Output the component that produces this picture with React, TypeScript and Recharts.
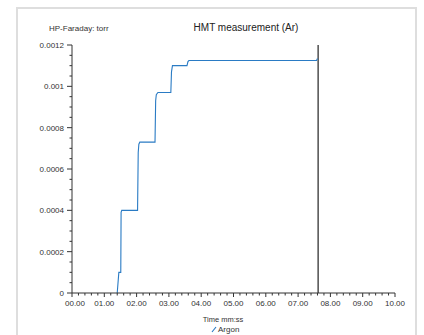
import React from "react";
import { LineChart, Line, XAxis, YAxis, ReferenceLine, Legend } from "recharts";

// time in minutes, HP-Faraday pressure in torr
const timeMin = [1.40, 1.45, 1.47, 1.51, 1.52, 1.54, 2.03, 2.05, 2.07, 2.10, 2.57, 2.59, 2.61, 2.66, 3.06, 3.08, 3.11, 3.17, 3.56, 3.59, 3.62, 7.57, 7.60];
const argon = [0, 0.0001, 0.0001, 0.0001, 0.00039, 0.0004, 0.0004, 0.00068, 0.00072, 0.00073, 0.00073, 0.00093, 0.00096, 0.00097, 0.00097, 0.00107, 0.0011, 0.0011, 0.0011, 0.00112, 0.001125, 0.001125, 0.001135];

const xMajorTicks = [0, 1, 2, 3, 4, 5, 6, 7, 8, 9, 10];
const xTickLabels = ["00.00", "01.00", "02.00", "03.00", "04.00", "05.00", "06.00", "07.00", "08.00", "09.00", "10.00"];
const yMajorTicks = [0, 0.0002, 0.0004, 0.0006, 0.0008, 0.001, 0.0012];
const yTickLabels = ["0", "0.0002", "0.0004", "0.0006", "0.0008", "0.001", "0.0012"];
const cursorTime = 7.62;

const data = timeMin.map((t, i) => ({ t, argon: argon[i] }));

const xTicks: number[] = [];
xMajorTicks.forEach((v, i) => {
  xTicks.push(v);
  if (i < xMajorTicks.length - 1) {
    const step = (xMajorTicks[i + 1] - v) / 5;
    for (let k = 1; k < 5; k++) xTicks.push(+(v + k * step).toFixed(6));
  }
});
const yTicks: number[] = [];
yMajorTicks.forEach((v, i) => {
  yTicks.push(v);
  if (i < yMajorTicks.length - 1) {
    const step = (yMajorTicks[i + 1] - v) / 4;
    for (let k = 1; k < 4; k++) yTicks.push(+(v + k * step).toFixed(8));
  }
});

const FONT = "'Liberation Sans', Arial, Helvetica, sans-serif";
const AXIS = "#333";

const XTick = (props: any) => {
  const { x, y, payload } = props;
  const idx = xMajorTicks.findIndex((m) => Math.abs(m - payload.value) < 1e-6);
  const major = idx >= 0;
  return (
    <g>
      <line x1={x} x2={x} y1={y} y2={y + (major ? 4 : 2.5)} stroke={AXIS} strokeWidth={1} />
      {major && (
        <text x={x + (idx === 0 ? 3 : 0)} y={y + 13} textAnchor="middle" fontSize={8} fill="#333" fontFamily={FONT}>
          {xTickLabels[idx]}
        </text>
      )}
    </g>
  );
};

const YTick = (props: any) => {
  const { x, y, payload } = props;
  const idx = yMajorTicks.findIndex((m) => Math.abs(m - payload.value) < 1e-9);
  const major = idx >= 0;
  return (
    <g>
      <line x1={x - (major ? 5 : 2.5)} x2={x} y1={y} y2={y} stroke={AXIS} strokeWidth={1} />
      {major && (
        <text x={x - 8} y={y + 3} textAnchor="end" fontSize={8} fill="#333" fontFamily={FONT}>
          {yTickLabels[idx]}
        </text>
      )}
    </g>
  );
};

const LegendContent = () => (
  <div style={{ display: "flex", justifyContent: "flex-start", alignItems: "center", paddingLeft: 211, fontFamily: FONT, fontSize: 8, color: "#333", height: 12 }}>
    <svg width={6} height={8} style={{ marginRight: 1 }}>
      <line x1={1} y1={7} x2={5} y2={2} stroke="#2a7bc4" strokeWidth={1.2} />
    </svg>
    <span>Argon</span>
  </div>
);

export default function App() {
  return (
    <div style={{ position: "absolute", left: 0, top: 0, width: 424, height: 335, background: "#fff", overflow: "hidden" }}>
      <div style={{ position: "absolute", left: 16, top: 7, width: 397, height: 340, border: "2px solid #dedede" }} />
      <div style={{ position: "absolute", left: 0, top: 0 }}>
        <LineChart width={424} height={335} data={data} margin={{ top: 45, right: 29, left: 0, bottom: 0 }}>
          <XAxis
            dataKey="t"
            type="number"
            domain={[0, 10]}
            ticks={xTicks}
            interval={0}
            tickSize={0}
            tickMargin={0}
            tick={<XTick />}
            stroke={AXIS}
            height={30}
            allowDataOverflow
          />
          <YAxis
            type="number"
            domain={[0, 0.0012]}
            ticks={yTicks}
            interval={0}
            tickSize={0}
            tickMargin={0}
            tick={<YTick />}
            stroke={AXIS}
            width={72}
            allowDataOverflow
          />
          <ReferenceLine x={cursorTime} stroke="#333" strokeWidth={1.3} ifOverflow="visible" />
          <Line
            type="linear"
            dataKey="argon"
            name="Argon"
            stroke="#2a7bc4"
            strokeWidth={1.1}
            dot={false}
            isAnimationActive={false}
          />
          <Legend verticalAlign="bottom" height={12} content={<LegendContent />} wrapperStyle={{ bottom: 0, left: 0, width: 424 }} />
          <text x={246} y={31} textAnchor="middle" fontSize={10} fill="#222" fontFamily={FONT}>
            HMT measurement (Ar)
          </text>
          <text x={49} y={31} textAnchor="start" fontSize={8} fill="#333" fontFamily={FONT}>
            HP-Faraday: torr
          </text>
          <text x={223} y={322} textAnchor="middle" fontSize={7.5} fill="#333" fontFamily={FONT}>
            Time mm:ss
          </text>
        </LineChart>
      </div>
    </div>
  );
}
